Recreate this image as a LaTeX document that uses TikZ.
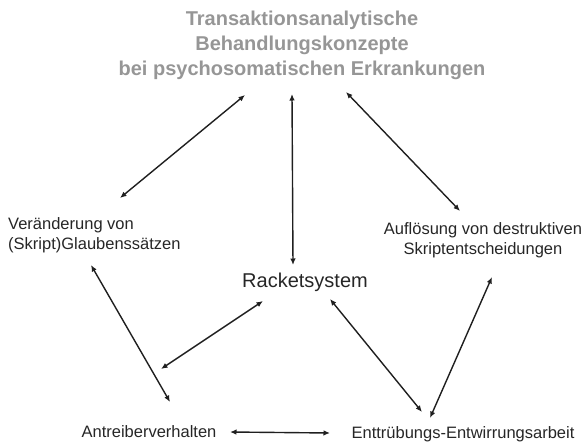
\documentclass[tikz,border=0pt]{standalone}
\usepackage{fontspec}
\setmainfont{Liberation Sans}
\usepackage{xcolor}
\usepackage{tikz}
\usetikzlibrary{arrows, arrows.meta}
\definecolor{titlegray}{HTML}{969696}
\definecolor{textgray}{HTML}{262626}

\begin{document}
\begin{tikzpicture}[x=1pt,y=-1pt,
  txt/.style={inner sep=0pt,text=textgray,font=\fontsize{16.5}{20}\selectfont},
  twoway/.style={{Latex[length=6.5pt,width=5.5pt]}-{Latex[length=6.5pt,width=5.5pt]},line width=1.4pt,black!88}]
\useasboundingbox (0,0) rectangle (584,445);
\node[inner sep=0pt,align=center,text=titlegray,font=\fontsize{20}{25}\selectfont\bfseries] (title) at (302,45) {Transaktionsanalytische\\Behandlungskonzepte\\bei psychosomatischen Erkrankungen};
\node[txt,align=left,anchor=west] (glaube) at (8,235) {Veränderung von\\(Skript)Glaubenssätzen};
\node[txt,align=center] (skript) at (483,240) {Auflösung von destruktiven\\Skriptentscheidungen};
\node[txt,font=\fontsize{20}{24}\selectfont] (racket) at (305,282) {Racketsystem};
\node[txt] (antreiber) at (149,432) {Antreiberverhalten};
\node[txt] (truebung) at (463,434) {Enttrübungs-Entwirrungsarbeit};
\draw[twoway] ([shift={(-57,50)}]title.center) -- ([shift={(112,-37)}]glaube.west);
\draw[twoway] ([shift={(-10,49)}]title.center) -- ([shift={(-12,-17)}]racket.center);
\draw[twoway] ([shift={(44,47)}]title.center) -- ([shift={(-23,-29)}]skript.center);
\draw[twoway] ([shift={(83,30)}]glaube.west) -- ([shift={(21,-30)}]antreiber.center);
\draw[twoway] ([shift={(-42,19)}]racket.center) -- ([shift={(12,-63)}]antreiber.center);
\draw[twoway] ([shift={(25,17)}]racket.center) -- ([shift={(-41,-22)}]truebung.center);
\draw[twoway] ([shift={(9,37)}]skript.center) -- ([shift={(-33,-16)}]truebung.center);
\draw[twoway] ([shift={(81,0)}]antreiber.center) -- ([shift={(-133,-1)}]truebung.center);
\end{tikzpicture}
\end{document}
